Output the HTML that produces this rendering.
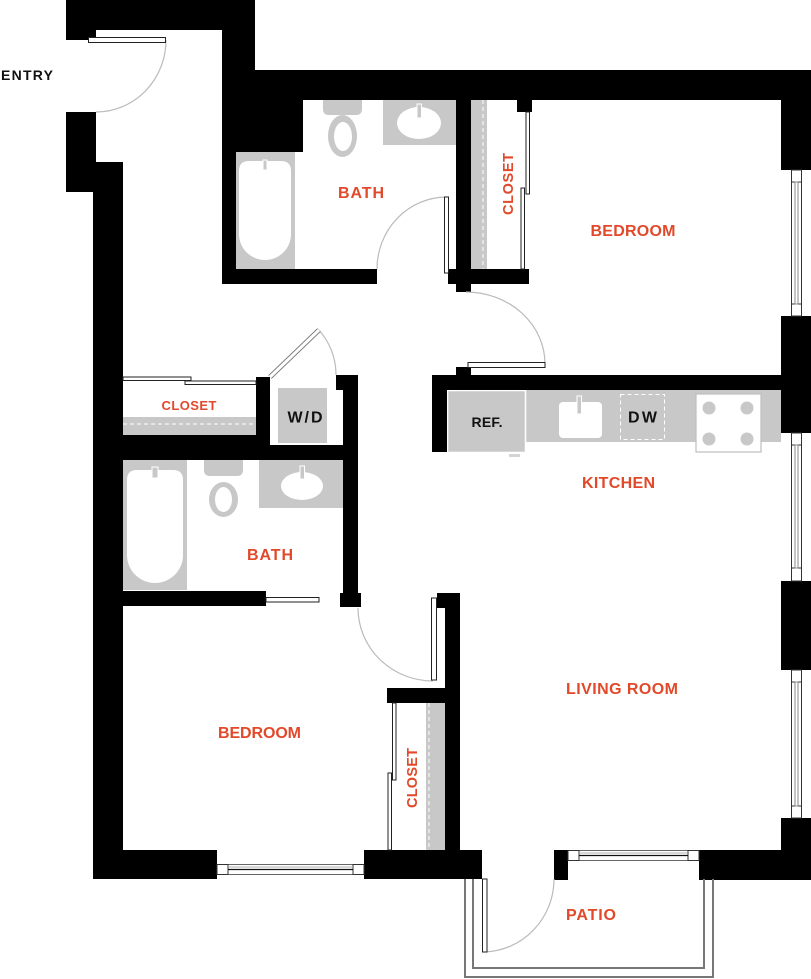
<!DOCTYPE html>
<html>
<head>
<meta charset="utf-8">
<style>
html,body{margin:0;padding:0;background:#fff;}
svg{display:block;}
.lbl{font-family:"Liberation Sans",Arial,sans-serif;font-weight:bold;font-size:16px;fill:#e1492a;}
.blk{font-family:"Liberation Sans",Arial,sans-serif;font-weight:bold;font-size:14px;fill:#111;}
</style>
</head>
<body>
<svg width="811" height="979" viewBox="0 0 811 979" xmlns="http://www.w3.org/2000/svg">
<rect x="0" y="0" width="811" height="979" fill="#fff"/>

<g fill="#c8c8c8">
  <rect x="236" y="152" width="59" height="117"/>
  <rect x="383" y="100" width="73" height="45"/>
  <path d="M323,100 H362 V109 Q362,115 356,115 H329 Q323,115 323,109 Z"/>
  <ellipse cx="342.5" cy="136" rx="14.5" ry="21"/>
  <rect x="471" y="100" width="16" height="169"/>
  <rect x="123" y="417" width="133" height="18"/>
  <rect x="278" y="388" width="49" height="55"/>
  <rect x="123" y="460" width="64" height="130"/>
  <path d="M204,460 H243 V470 Q243,476 237,476 H210 Q204,476 204,470 Z"/>
  <ellipse cx="223.5" cy="499.5" rx="14.5" ry="17.5"/>
  <rect x="259" y="460" width="84" height="48"/>
  <rect x="447" y="390" width="334" height="52"/>
  <rect x="426" y="703" width="19" height="147"/>
</g>

<g fill="#fff">
  <path d="M239,171 Q239,161 249,161 L281,161 Q291,161 291,171 L291,234 A26,26 0 0 1 239,234 Z"/>
  <ellipse cx="343" cy="136.5" rx="9" ry="14.5"/>
  <ellipse cx="419" cy="123" rx="22" ry="16"/>
  <path d="M127,480 Q127,470 137,470 L173,470 Q183,470 183,480 L183,555 A28,28 0 0 1 127,555 Z"/>
  <ellipse cx="223.5" cy="499.5" rx="8.5" ry="12.5"/>
  <ellipse cx="302" cy="486" rx="21" ry="14"/>
  <rect x="559" y="402" width="43" height="36" rx="4"/>
</g>
<g fill="#c8c8c8" stroke="#fff" stroke-width="1">
  <rect x="263" y="160" width="4" height="10"/>
  <rect x="417" y="104" width="4.5" height="14"/>
  <rect x="152" y="467" width="6" height="11"/>
  <rect x="300" y="466" width="4.5" height="13"/>
  <rect x="577" y="396" width="4.5" height="18"/>
</g>
<g stroke="#fff" stroke-width="1" stroke-dasharray="4,3" fill="none">
  <line x1="483" y1="100" x2="483" y2="269"/>
  <line x1="123" y1="424" x2="256" y2="424"/>
  <line x1="429" y1="703" x2="429" y2="850"/>
</g>

<rect x="447.5" y="390.5" width="78" height="62" fill="#c8c8c8" stroke="#fff" stroke-width="1.5"/>
<rect x="509" y="454" width="11" height="3" fill="#d4d4d4"/>
<rect x="620.5" y="394.5" width="44" height="45" fill="none" stroke="#fff" stroke-width="1" stroke-dasharray="4,3"/>
<rect x="696" y="394" width="65" height="58" fill="#fff" stroke="#bdbdbd" stroke-width="1.2"/>
<g fill="#c8c8c8">
  <circle cx="709" cy="408" r="6.5"/>
  <circle cx="747" cy="408" r="6.5"/>
  <circle cx="709" cy="439" r="6.5"/>
  <circle cx="747" cy="439" r="6.5"/>
</g>

<g fill="#000">
  <rect x="66" y="0" width="189" height="30"/>
  <rect x="66" y="0" width="30" height="40"/>
  <rect x="222" y="0" width="33" height="152"/>
  <rect x="222" y="70" width="81" height="82"/>
  <rect x="255" y="70" width="556" height="30"/>
  <rect x="222" y="152" width="14" height="132"/>
  <rect x="222" y="269" width="155" height="15"/>
  <rect x="781" y="70" width="30" height="100"/>
  <rect x="781" y="316" width="30" height="117"/>
  <rect x="781" y="581" width="30" height="89"/>
  <rect x="781" y="818" width="30" height="62"/>
  <rect x="456" y="100" width="15" height="184"/>
  <rect x="448" y="269" width="81" height="15"/>
  <rect x="456" y="284" width="15" height="8"/>
  <rect x="517" y="100" width="15" height="12"/>
  <rect x="432" y="375" width="349" height="15"/>
  <rect x="432" y="375" width="15" height="77"/>
  <rect x="456" y="367" width="15" height="8"/>
  <rect x="66" y="112" width="30" height="50"/>
  <rect x="66" y="162" width="57" height="30"/>
  <rect x="93" y="192" width="30" height="687"/>
  <rect x="93" y="850" width="124" height="29"/>
  <rect x="123" y="435" width="147" height="25"/>
  <rect x="256" y="445" width="102" height="15"/>
  <rect x="256" y="377" width="14" height="68"/>
  <rect x="336" y="375" width="22" height="15"/>
  <rect x="343" y="375" width="15" height="218"/>
  <rect x="340" y="593" width="21" height="14"/>
  <rect x="93" y="591" width="173" height="15"/>
  <rect x="437" y="593" width="23" height="15"/>
  <rect x="445" y="593" width="15" height="257"/>
  <rect x="387" y="688" width="58" height="15"/>
  <rect x="364" y="850" width="118" height="29"/>
  <rect x="554" y="850" width="14" height="30"/>
  <rect x="699" y="850" width="112" height="30"/>
</g>

<g>
  <rect x="791.5" y="170" width="10" height="146" fill="#fff" stroke="#333" stroke-width="1"/>
  <line x1="791.5" y1="182" x2="801.5" y2="182" stroke="#333"/>
  <line x1="791.5" y1="304" x2="801.5" y2="304" stroke="#333"/>
  <rect x="795" y="182" width="3" height="122" fill="#fff" stroke="#888" stroke-width="1"/>

  <rect x="791.5" y="433" width="10" height="148" fill="#fff" stroke="#333" stroke-width="1"/>
  <line x1="791.5" y1="445" x2="801.5" y2="445" stroke="#333"/>
  <line x1="791.5" y1="568" x2="801.5" y2="568" stroke="#333"/>
  <rect x="795" y="445" width="3" height="123" fill="#fff" stroke="#888" stroke-width="1"/>

  <rect x="791.5" y="670" width="10" height="148" fill="#fff" stroke="#333" stroke-width="1"/>
  <line x1="791.5" y1="682" x2="801.5" y2="682" stroke="#333"/>
  <line x1="791.5" y1="806" x2="801.5" y2="806" stroke="#333"/>
  <rect x="795" y="682" width="3" height="124" fill="#fff" stroke="#888" stroke-width="1"/>
</g>
<g>
  <rect x="217" y="864.5" width="147" height="10" fill="#fff" stroke="#666" stroke-width="1"/>
  <rect x="217" y="864.5" width="11" height="10" fill="#fff" stroke="#333" stroke-width="1"/>
  <rect x="353" y="864.5" width="11" height="10" fill="#fff" stroke="#333" stroke-width="1"/>
  <line x1="228" y1="869.5" x2="353" y2="869.5" stroke="#111" stroke-width="1.2"/>
  <line x1="228" y1="867" x2="353" y2="867" stroke="#999" stroke-width="0.8"/>

  <rect x="568" y="850.5" width="131" height="10" fill="#fff" stroke="#666" stroke-width="1"/>
  <rect x="568" y="850.5" width="11" height="10" fill="#fff" stroke="#333" stroke-width="1"/>
  <rect x="688" y="850.5" width="11" height="10" fill="#fff" stroke="#333" stroke-width="1"/>
  <line x1="579" y1="855.5" x2="688" y2="855.5" stroke="#111" stroke-width="1.2"/>
  <line x1="579" y1="853" x2="688" y2="853" stroke="#999" stroke-width="0.8"/>
</g>

<path d="M465,879 V977 H713 V879" fill="none" stroke="#777" stroke-width="2"/>
<path d="M473,879 V968 H704 V879" fill="none" stroke="#777" stroke-width="2"/>

<g fill="none" stroke="#bbb" stroke-width="1.2">
  <path d="M166,40 A70,72 0 0 1 96,112"/>
  <path d="M377,269 A70,72 0 0 1 446,197"/>
  <path d="M466,292 A79,72 0 0 1 545,364"/>
  <path d="M318,329 A67,67 0 0 1 336,375"/>
  <path d="M358,608 A75,73 0 0 0 433,681"/>
  <path d="M554,879 A72,73 0 0 1 484,952"/>
</g>

<g fill="#fff" stroke="#222" stroke-width="1">
  <rect x="88.5" y="37.5" width="77" height="5"/>
  <rect x="444.5" y="197" width="4" height="76"/>
  <rect x="468" y="362.5" width="77" height="5"/>
  <rect x="266" y="597.5" width="53" height="4.5"/>
  <rect x="431.5" y="598" width="5" height="82"/>
  <rect x="482.5" y="879" width="4.5" height="73"/>
  <rect x="526" y="112" width="3.5" height="82"/>
  <rect x="521" y="188" width="3.5" height="81"/>
  <rect x="123" y="377" width="68" height="3.5"/>
  <rect x="185" y="381" width="71" height="3.5"/>
  <rect x="392.5" y="703" width="3.5" height="77"/>
  <rect x="388" y="773" width="3.5" height="77"/>
</g>
<line x1="270" y1="377" x2="319" y2="330" stroke="#777" stroke-width="5"/>
<line x1="270" y1="377" x2="319" y2="330" stroke="#fff" stroke-width="3"/>

<text class="blk" x="1" y="80" textLength="52" lengthAdjust="spacing">ENTRY</text>
<text class="lbl" x="361" y="198" text-anchor="middle" textLength="46" lengthAdjust="spacing">BATH</text>
<text class="lbl" style="font-size:14.5px" transform="translate(513,184) rotate(-90)" x="0" y="0" text-anchor="middle" textLength="62" lengthAdjust="spacing">CLOSET</text>
<text class="lbl" x="633" y="236" text-anchor="middle" textLength="85" lengthAdjust="spacing">BEDROOM</text>
<text class="lbl" style="font-size:13px" x="189" y="410" text-anchor="middle" textLength="55" lengthAdjust="spacing">CLOSET</text>
<text class="blk" style="font-size:16px" x="305" y="422.5" text-anchor="middle" textLength="35" lengthAdjust="spacing">W/D</text>
<text class="blk" x="487" y="427" text-anchor="middle" textLength="31" lengthAdjust="spacing">REF.</text>
<text class="blk" style="font-size:16px" x="642.5" y="422.5" text-anchor="middle" textLength="29" lengthAdjust="spacing">DW</text>
<text class="lbl" x="618.5" y="488" text-anchor="middle" textLength="73" lengthAdjust="spacing">KITCHEN</text>
<text class="lbl" x="270" y="560" text-anchor="middle" textLength="46" lengthAdjust="spacing">BATH</text>
<text class="lbl" x="622" y="694" text-anchor="middle" textLength="112" lengthAdjust="spacing">LIVING ROOM</text>
<text class="lbl" x="259.5" y="738" text-anchor="middle" textLength="83" lengthAdjust="spacing">BEDROOM</text>
<text class="lbl" style="font-size:14.5px" transform="translate(417,778) rotate(-90)" x="0" y="0" text-anchor="middle" textLength="60" lengthAdjust="spacing">CLOSET</text>
<text class="lbl" x="591" y="920" text-anchor="middle" textLength="50" lengthAdjust="spacing">PATIO</text>
</svg>
</body>
</html>
